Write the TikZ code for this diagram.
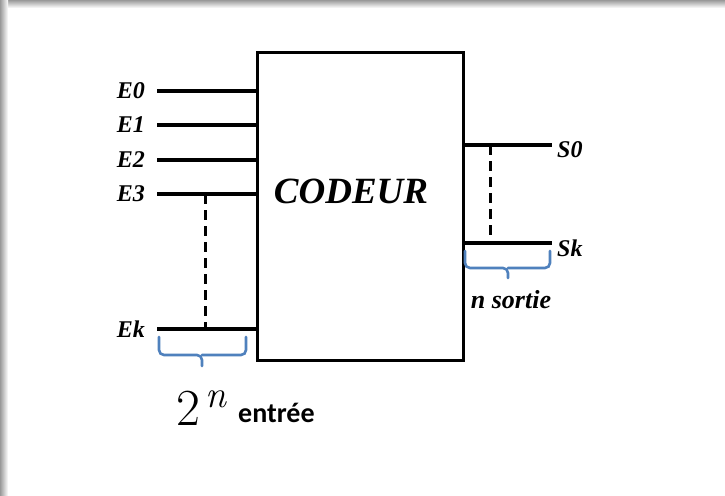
\documentclass[tikz,border=0pt]{standalone}
\usepackage{fontspec}
\setmainfont{Liberation Serif}
\newfontfamily\carlitofont{Carlito}
\newfontfamily\lmfont{Latin Modern Roman}
\definecolor{braceblue}{RGB}{79,129,189}
\begin{document}
\begin{tikzpicture}[x=1pt,y=-1pt,
  wire/.style={line width=4pt},
  dashline/.style={line width=3pt, dash pattern=on 10pt off 6pt},
  lab/.style={font=\fontsize{24}{24}\selectfont\bfseries\itshape, inner sep=0pt},
  bracestyle/.style={braceblue, line width=2.6pt, rounded corners=5pt, line cap=round}]
\useasboundingbox (0,0) rectangle (725,495);
\fill[white] (0,0) rectangle (725,495);
\shade[top color=black!40, bottom color=white] (0,0) rectangle (725,8);
\shade[left color=black!40, right color=white] (0,0) rectangle (8,495);
% box
\draw[line width=3pt] (257,53) rectangle (463,360);
\node[font=\fontsize{37}{37}\selectfont\bfseries\itshape] (cod) at (351,191) {CODEUR};
% inputs
\foreach \n/\y in {E0/91,E1/125,E2/160,E3/194,Ek/329}{
  \coordinate (a\n) at (157,\y);
  \coordinate (b\n) at (257,\y);
  \draw[wire] (a\n) -- (b\n);
  \node[lab, anchor=east] (l\n) at (145,\y) {\n};
}
\coordinate (d1) at (205,194);
\coordinate (d2) at (205,329);
\draw[dashline] (d1) -- (d2);
% outputs
\foreach \n/\y in {S0/145,Sk/243}{
  \coordinate (a\n) at (463,\y);
  \coordinate (b\n) at (552,\y);
  \draw[wire] (a\n) -- (b\n);
  \node[lab, anchor=west] (l\n) at (557,\y+5) {\n};
}
\coordinate (d3) at (490,145);
\coordinate (d4) at (490,243);
\draw[dashline] (d3) -- (d4);
% braces
\draw[bracestyle] (159,337) -- (159,355) -- (202,355) -- (202,366);
\draw[bracestyle] (202,355) -- (246,355) -- (246,337);
\draw[bracestyle] (465,251) -- (465,268) -- (508,268) -- (508,278);
\draw[bracestyle] (508,268) -- (550,268) -- (550,251);
\node[font=\fontsize{26}{26}\selectfont\bfseries\itshape, inner sep=0pt, anchor=base] (ns) at (511,308) {n sortie};
% 2^n entree
\node[font=\fontsize{52}{52}\selectfont\lmfont, inner sep=0pt, anchor=base west] (two) at (176,425) {2};
\node[font=\fontsize{38}{38}\selectfont\lmfont\itshape, inner sep=0pt, anchor=base west] (nn) at (205,407) {n};
\node[font=\fontsize{28}{28}\selectfont\carlitofont\bfseries, inner sep=0pt, anchor=base west] (ent) at (238,422) {entrée};
\end{tikzpicture}
\end{document}
